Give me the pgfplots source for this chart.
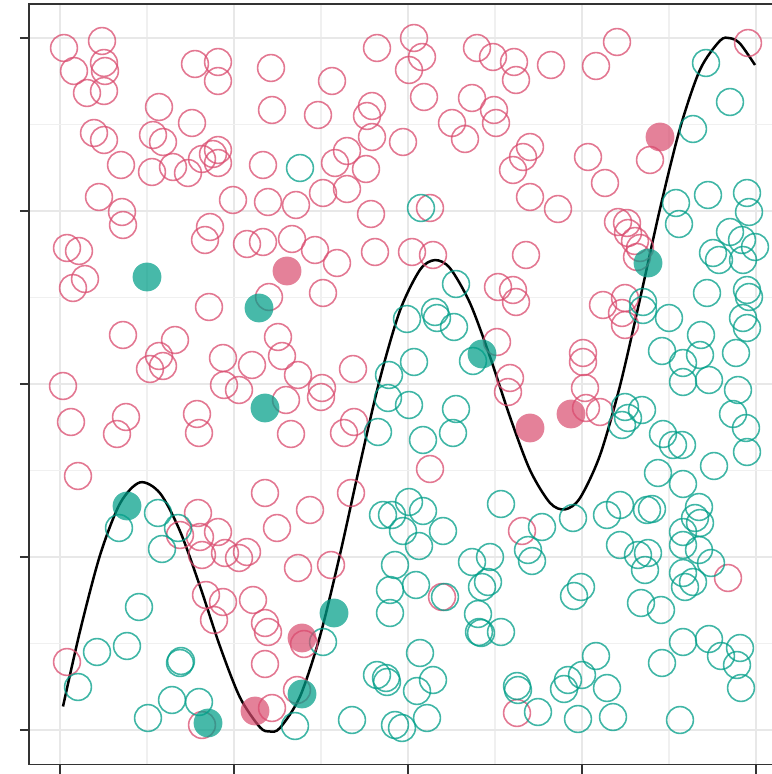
\documentclass[border=0pt]{standalone}
\usepackage{pgfplots}
\pgfplotsset{compat=1.18}
\definecolor{pinkc}{RGB}{217,75,110}
\definecolor{tealc}{RGB}{0,158,136}
\definecolor{gridmaj}{RGB}{232,232,232}
\definecolor{gridmin}{RGB}{240,240,240}
\definecolor{framec}{RGB}{51,51,51}

\begin{document}
\begin{tikzpicture}
\begin{axis}[
  scale only axis, width=379.5pt, height=380.1pt,
  xmin=-31, xmax=728, ymin=-34.5, ymax=725.7,
  xtick={0,174,348,522,696}, ytick={0,173,346,519,692},
  minor xtick={87,261,435,609}, minor ytick={86.5,259.5,432.5,605.5},
  xticklabels={}, yticklabels={},
  grid=both,
  major grid style={line width=1.4pt, draw=gridmaj},
  minor grid style={line width=0.9pt, draw=gridmin},
  tick pos=left, tick align=outside,
  major tick length=4.5pt, minor tick length=0pt,
  major tick style={line width=1.3pt, draw=framec},
  axis line style={line width=0.8pt, draw=framec},
]
\coordinate (bbsw) at (axis cs:-60,-44);
\coordinate (bbne) at (axis cs:711,730);

% group A, open circles
\addplot[only marks, mark=o, mark size=6.7pt, color=pinkc,
  mark options={draw=pinkc, draw opacity=0.75, line width=0.8pt}] coordinates {
(4,682)(42,689)(14,659)(44,667)(45,659)(27,637)(44,639)(135,666)(158,668)(158,649)
(99,623)(132,607)(34,597)(44,590)(93,595)(103,588)(61,565)(92,558)(113,563)(128,557)
(142,571)(153,576)(158,580)(158,567)(39,533)(62,518)(63,505)(173,530)(150,503)(145,490)
(7,482)(19,479)(25,451)(13,442)(187,486)(149,423)(63,395)(115,390)(99,374)(103,364)
(90,361)(163,372)(3,344)(192,365)(164,345)
(211,662)(272,649)(317,682)(354,692)(362,673)(349,660)(417,682)(433,673)(454,668)(456,650)
(364,633)(412,632)(434,620)(436,607)(392,607)(405,591)(212,620)(258,615)(312,624)(307,614)
(312,593)(343,588)(203,565)(287,579)(275,567)(306,561)(263,537)(287,541)(208,528)(236,525)
(311,516)(370,522)(453,560)(203,488)(232,491)(255,480)(277,467)(315,478)(352,478)(373,475)
(263,437)(209,433)(218,393)(222,374)(238,355)(293,361)(437,388)(438,443)(453,440)(456,428)
(262,342)
(491,665)(557,688)(536,664)(470,583)(463,573)(528,573)(545,547)(470,533)(498,521)(590,570)
(558,508)(567,507)(568,497)(575,489)(580,482)(577,473)(466,475)(543,425)(565,432)(562,417)
(565,405)(523,377)(523,368)(450,352)(525,342)(688,687)
(11,308)(66,313)(57,296)(137,316)(139,297)(179,340)(18,254)(138,217)(120,195)(140,193)
(158,198)(142,175)(165,177)(179,172)(187,178)(146,135)(163,128)(154,110)(193,130)(7,68)
(142,5)
(226,330)(261,333)(231,296)(284,297)(294,308)(205,237)(250,220)(217,202)(291,237)(238,162)
(271,165)(205,107)(208,98)(205,66)(237,40)(212,22)(244,86)(448,338)(370,261)(382,133)
(462,199)(457,17)(526,322)(540,318)(668,152)
};

% group B, open circles
\addplot[only marks, mark=o, mark size=6.7pt, color=tealc,
  mark options={draw=tealc, draw opacity=0.75, line width=0.8pt}] coordinates {
(240,562)(361,522)(396,446)(347,411)(375,418)(377,412)(394,403)(354,368)(329,355)(413,369)
(646,667)(670,628)(633,601)(616,527)(648,535)(687,537)(689,518)(619,506)(670,498)(682,490)
(695,483)(653,477)(659,470)(683,470)(647,437)(687,440)(689,433)(583,428)(583,420)(609,412)
(641,395)(683,412)(687,402)(602,379)(623,367)(640,375)(676,377)(649,350)(623,348)(678,340)
(59,202)(98,217)(118,202)(102,181)(79,123)(37,78)(67,84)(120,67)(121,69)(18,43)
(112,30)(139,28)(88,12)
(328,332)(349,325)(396,321)(318,298)(363,290)(393,297)(323,215)(332,215)(349,228)(363,219)
(343,199)(383,199)(359,184)(335,165)(330,140)(356,145)(330,117)(385,133)(412,168)(430,173)
(422,143)(428,148)(418,116)(421,97)(419,98)(441,98)(263,88)(360,77)(317,55)(326,52)
(327,48)(357,39)(373,50)(292,10)(367,12)(335,5)(342,2)(235,4)(441,226)(458,40)
(457,44)
(565,323)(582,320)(562,305)(568,312)(603,296)(613,285)(622,285)(598,257)(623,246)(654,264)
(673,316)(686,302)(687,278)(639,223)(635,212)(640,207)(623,198)(639,180)(623,185)(651,167)
(623,157)(633,148)(625,143)(513,212)(482,203)(468,180)(472,169)(547,215)(560,225)(587,220)
(592,221)(560,185)(578,175)(588,177)(585,160)(521,143)(514,134)(581,127)(601,120)(623,88)
(649,91)(661,74)(680,82)(677,65)(681,42)(602,67)(536,74)(508,50)(522,55)(504,41)
(547,42)(478,18)(518,11)(553,13)(620,10)
};

% group A, filled circles
\addplot[only marks, mark=*, mark size=7.2pt, color=pinkc,
  mark options={draw=pinkc, fill=pinkc, draw opacity=0, fill opacity=0.7}] coordinates {
(227,459)(600,593)(470,302)(511,316)(195,19)(242,92)
};

% group B, filled circles
\addplot[only marks, mark=*, mark size=7.2pt, color=tealc,
  mark options={draw=tealc, fill=tealc, draw opacity=0, fill opacity=0.72}] coordinates {
(87,453)(199,422)(205,322)(67,224)(148,7)(274,117)(242,36)(422,376)(588,467)
};

% fitted trend
\addplot[black, line width=1.25pt, smooth, no marks] coordinates {
(3,23.5)(20,98.8)(40,174.7)(60,226.5)(80,247.6)(100,236.8)(120,198.9)(140,143.7)
(160,83.6)(180,32.5)(200,2.7)(210,-1.5)(220,2.1)(240,33.5)(260,93.9)(280,175.6)
(300,265.9)(320,351.4)(340,419.5)(360,460.2)(375,469.9)(390,461.8)(410,426.9)
(430,373.2)(450,313)(470,259.9)(490,227.1)(505,220.6)(520,232)(540,274.8)
(560,344.3)(580,431)(600,521.2)(620,601.6)(640,660.3)(660,689.3)(670,691.8)
(680,686.4)(695,665)
};
\end{axis}
\pgfresetboundingbox
\path[use as bounding box] (bbsw) rectangle (bbne);
\end{tikzpicture}
\end{document}
